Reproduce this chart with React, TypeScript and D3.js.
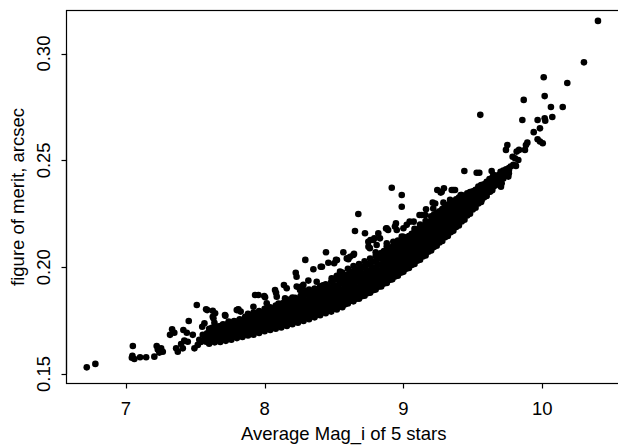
import React from "react";
import * as d3 from "d3";

// Stars at the faint-magnitude end (sparse)
const faintEnd: [number, number][] = [
  [6.718, 0.1531], [6.78, 0.1547],
  [7.05, 0.1631], [7.043, 0.1576], [7.061, 0.157], [7.047, 0.1585], [7.102, 0.1578],
  [7.146, 0.1578], [7.205, 0.1581], [7.222, 0.1631], [7.254, 0.162], [7.266, 0.1604],
  [7.241, 0.16], [7.23, 0.1615], [7.333, 0.1709], [7.349, 0.1693], [7.318, 0.1683],
  [7.362, 0.162], [7.374, 0.1604], [7.41, 0.162], [7.398, 0.164], [7.414, 0.1706],
  [7.439, 0.1693], [7.421, 0.1656], [7.446, 0.1651], [7.482, 0.1683], [7.511, 0.1823],
  [7.494, 0.162], [7.518, 0.1636], [7.55, 0.1721], [7.566, 0.1737], [7.578, 0.1803],
  [7.626, 0.1796], [7.626, 0.1768], [7.638, 0.174], [7.578, 0.1651], [7.554, 0.1683],
  [7.453, 0.1748], [7.586, 0.1799], [7.643, 0.1784], [7.529, 0.166], [7.54, 0.165],
  [7.57, 0.1665], [7.585, 0.169], [7.592, 0.166],
];

// Scatter above the main locus
const upperScatter: [number, number][] = [
  [7.717, 0.1772], [7.741, 0.1745], [7.806, 0.18], [7.811, 0.1803], [7.631, 0.1761],
  [7.799, 0.1799], [7.827, 0.1792], [7.714, 0.1776], [7.931, 0.187], [7.955, 0.187],
  [8.003, 0.1859], [7.997, 0.1865], [8.075, 0.1893], [8.082, 0.188], [8.139, 0.1916],
  [8.224, 0.1974], [8.231, 0.1909], [8.266, 0.1909], [8.28, 0.1893], [8.279, 0.1917],
  [8.315, 0.1937], [8.293, 0.2034], [8.351, 0.199], [8.404, 0.2002], [8.413, 0.2002],
  [8.442, 0.207], [8.459, 0.2021], [8.514, 0.2034], [8.521, 0.2033], [8.501, 0.2018],
  [8.567, 0.207], [8.592, 0.2041], [8.615, 0.2049], [8.603, 0.2037], [8.644, 0.2062],
  [8.639, 0.2057], [8.675, 0.2249], [8.651, 0.2169], [8.723, 0.2159], [8.747, 0.2119],
  [8.758, 0.2089], [8.807, 0.2104], [8.783, 0.2127], [8.831, 0.2135], [8.762, 0.2127],
  [8.79, 0.2135], [8.748, 0.2096], [8.819, 0.2158], [8.88, 0.2112], [8.927, 0.2119],
  [8.88, 0.2182], [8.875, 0.2181], [8.89, 0.2174], [8.939, 0.219], [8.952, 0.2174],
  [8.946, 0.2205], [8.988, 0.2143], [9.048, 0.2146], [9.0, 0.2182], [9.024, 0.2198],
  [9.045, 0.2213], [9.074, 0.2213], [9.12, 0.219], [9.116, 0.2244], [9.159, 0.2244],
  [9.132, 0.2244], [9.163, 0.2271], [9.215, 0.2275], [9.211, 0.2302], [9.229, 0.2298],
  [9.288, 0.2302], [9.336, 0.2315], [9.269, 0.2349], [9.244, 0.2361], [9.292, 0.2369],
  [9.276, 0.2353], [9.348, 0.2361], [9.36, 0.2361], [9.372, 0.2361], [9.413, 0.2338],
  [9.42, 0.2338], [9.312, 0.2291], [9.372, 0.2283], [9.408, 0.2291], [9.444, 0.2283],
  [9.467, 0.2299], [9.491, 0.2315], [9.503, 0.233], [9.528, 0.2307], [9.552, 0.233],
  [9.564, 0.2315], [8.916, 0.2372], [8.988, 0.2338], [8.988, 0.2283], [8.23, 0.1955],
  [8.087, 0.1862], [8.147, 0.1854], [8.015, 0.1831], [7.919, 0.1815], [8.159, 0.1901],
  [8.255, 0.1893], [8.375, 0.1932], [8.483, 0.1948], [8.543, 0.1979],
];

// Bright-magnitude tail
const brightTail: [number, number][] = [
  [9.439, 0.245], [9.528, 0.2442], [9.547, 0.2442], [9.6, 0.24], [9.624, 0.2408],
  [9.66, 0.2416], [9.636, 0.245], [9.648, 0.2432], [9.72, 0.2447], [9.732, 0.2432],
  [9.756, 0.2424], [9.708, 0.2393], [9.703, 0.2377], [9.6, 0.2369], [9.624, 0.2353],
  [9.588, 0.2338], [9.576, 0.233], [9.648, 0.2377], [9.636, 0.2385], [9.528, 0.2361],
  [9.773, 0.2471], [9.792, 0.2479], [9.811, 0.2474], [9.787, 0.2517], [9.804, 0.251],
  [9.828, 0.2502], [9.739, 0.2549], [9.749, 0.2572], [9.816, 0.2541], [9.833, 0.2549],
  [9.876, 0.2549], [9.883, 0.2572], [9.893, 0.2583], [9.939, 0.2632], [9.967, 0.2599],
  [9.984, 0.2588], [10.004, 0.258], [9.984, 0.265], [9.857, 0.2689], [9.967, 0.2689],
  [10.018, 0.2697], [10.022, 0.2686], [10.073, 0.2703], [10.063, 0.275], [10.148, 0.275],
  [9.867, 0.2783], [10.018, 0.2801], [10.181, 0.2862], [10.011, 0.2889], [10.301, 0.2959],
  [10.402, 0.3153], [9.554, 0.2713],
];

// Dense main locus, read column by column: [mag, figure-of-merit values]
const coreColumns: [number, number[]][] = [
  [7.6, [0.1642, 0.1665, 0.169, 0.1712]],
  [7.64, [0.1648, 0.1672, 0.1697, 0.1718]],
  [7.68, [0.165, 0.1675, 0.1702, 0.1724]],
  [7.72, [0.1655, 0.168, 0.1706, 0.173]],
  [7.76, [0.166, 0.1686, 0.1712, 0.1738]],
  [7.8, [0.1668, 0.1693, 0.1718, 0.1745]],
  [7.84, [0.1673, 0.1698, 0.1722, 0.1752]],
  [7.88, [0.168, 0.1705, 0.173, 0.176, 0.1782]],
  [7.92, [0.1684, 0.171, 0.1735, 0.1764, 0.1788]],
  [7.96, [0.1692, 0.1716, 0.1742, 0.177, 0.1795]],
  [8.0, [0.17, 0.1724, 0.175, 0.1776, 0.1805]],
  [8.04, [0.1706, 0.173, 0.1756, 0.1782, 0.1812]],
  [8.08, [0.1712, 0.1737, 0.1762, 0.179, 0.182]],
  [8.12, [0.1718, 0.1743, 0.177, 0.1798, 0.1828]],
  [8.16, [0.1725, 0.175, 0.1778, 0.1806, 0.1835]],
  [8.2, [0.1733, 0.1758, 0.1785, 0.1812, 0.1842, 0.1858]],
  [8.24, [0.174, 0.1765, 0.1792, 0.182, 0.185]],
  [8.28, [0.1748, 0.1773, 0.18, 0.1828, 0.1858, 0.188]],
  [8.32, [0.1756, 0.1782, 0.1808, 0.1836, 0.1866, 0.1895]],
  [8.36, [0.1765, 0.179, 0.1817, 0.1845, 0.1873, 0.19]],
  [8.4, [0.1775, 0.18, 0.1826, 0.1854, 0.1882, 0.191]],
  [8.44, [0.1784, 0.1808, 0.1835, 0.1862, 0.189, 0.192]],
  [8.48, [0.1792, 0.1817, 0.1844, 0.1872, 0.19, 0.1932]],
  [8.52, [0.1802, 0.1828, 0.1855, 0.1882, 0.191, 0.1942, 0.196]],
  [8.56, [0.1812, 0.1838, 0.1865, 0.1893, 0.1922, 0.1952, 0.1975]],
  [8.6, [0.183, 0.1856, 0.1882, 0.191, 0.1938, 0.1966, 0.1992]],
  [8.64, [0.184, 0.1866, 0.1893, 0.192, 0.1948, 0.1976, 0.2005]],
  [8.68, [0.1852, 0.1878, 0.1904, 0.1931, 0.1958, 0.1986, 0.2015]],
  [8.72, [0.1866, 0.1891, 0.1917, 0.1944, 0.1971, 0.1999, 0.2028]],
  [8.76, [0.188, 0.1905, 0.1931, 0.1958, 0.1985, 0.2012, 0.204]],
  [8.8, [0.1895, 0.192, 0.1946, 0.1972, 0.1999, 0.2026, 0.2052, 0.207]],
  [8.84, [0.191, 0.1935, 0.1961, 0.1987, 0.2013, 0.204, 0.2066]],
  [8.88, [0.1926, 0.1951, 0.1977, 0.2003, 0.2029, 0.2055, 0.208, 0.2098]],
  [8.92, [0.1943, 0.1968, 0.1993, 0.2019, 0.2045, 0.207, 0.2095]],
  [8.96, [0.196, 0.1985, 0.201, 0.2036, 0.2061, 0.2087, 0.211, 0.2125]],
  [9.0, [0.1978, 0.2003, 0.2028, 0.2053, 0.2078, 0.2104, 0.2128, 0.2142]],
  [9.04, [0.1996, 0.2021, 0.2046, 0.2071, 0.2096, 0.2121, 0.2146]],
  [9.08, [0.2015, 0.204, 0.2065, 0.209, 0.2115, 0.214, 0.2164, 0.218]],
  [9.12, [0.2035, 0.206, 0.2085, 0.211, 0.2134, 0.2158, 0.2182, 0.22]],
  [9.16, [0.2055, 0.208, 0.2104, 0.2128, 0.2152, 0.2176, 0.22, 0.2216]],
  [9.2, [0.2078, 0.2102, 0.2126, 0.215, 0.2173, 0.2196, 0.2218, 0.2238]],
  [9.24, [0.21, 0.2124, 0.2147, 0.217, 0.2193, 0.2215, 0.2236, 0.2255]],
  [9.28, [0.2123, 0.2146, 0.2168, 0.219, 0.2212, 0.2234, 0.2254, 0.2272]],
  [9.32, [0.2146, 0.2168, 0.219, 0.2211, 0.2232, 0.2252, 0.2272, 0.229]],
  [9.36, [0.217, 0.2191, 0.2212, 0.2233, 0.2253, 0.2272, 0.2292, 0.2308]],
  [9.4, [0.2195, 0.2215, 0.2235, 0.2255, 0.2274, 0.2293, 0.2311, 0.2326]],
  [9.44, [0.2222, 0.2241, 0.226, 0.2278, 0.2296, 0.2314, 0.2332]],
  [9.48, [0.225, 0.2268, 0.2286, 0.2304, 0.2321, 0.2338, 0.2352]],
  [9.52, [0.2278, 0.2296, 0.2313, 0.233, 0.2346, 0.2362]],
  [9.56, [0.2305, 0.2322, 0.2339, 0.2355, 0.237, 0.2384]],
  [9.6, [0.2333, 0.2349, 0.2365, 0.238, 0.2395]],
  [9.64, [0.236, 0.2376, 0.2391, 0.2406, 0.2418]],
  [9.68, [0.2388, 0.2403, 0.2417, 0.243]],
  [9.72, [0.2415, 0.2428, 0.2442, 0.2452]],
  [9.76, [0.244, 0.2452, 0.2464]],
];

// Further stars of the dense locus, read between the columns above
const coreColumnsBetween: [number, number[]][] = [
  [7.62, [0.1654, 0.1678, 0.1702, 0.1716]],
  [7.66, [0.166, 0.1684, 0.1708, 0.1722]],
  [7.7, [0.1662, 0.1688, 0.1714, 0.1732]],
  [7.74, [0.1668, 0.1693, 0.172, 0.174]],
  [7.78, [0.1674, 0.17, 0.1726, 0.1748]],
  [7.82, [0.168, 0.1706, 0.1732, 0.1756]],
  [7.86, [0.1686, 0.1712, 0.174, 0.1768]],
  [7.9, [0.1692, 0.1718, 0.1746, 0.1774]],
  [7.94, [0.17, 0.1724, 0.1752, 0.178]],
  [7.98, [0.1706, 0.1732, 0.176, 0.1788]],
  [8.02, [0.1712, 0.1738, 0.1764, 0.1794]],
  [8.06, [0.1718, 0.1744, 0.177, 0.18]],
  [8.1, [0.1724, 0.175, 0.1776, 0.1806, 0.183]],
  [8.14, [0.173, 0.1756, 0.1784, 0.1812, 0.1836]],
  [8.18, [0.1738, 0.1764, 0.1792, 0.182, 0.1848]],
  [8.22, [0.1746, 0.1772, 0.18, 0.1828, 0.1856]],
  [8.26, [0.1754, 0.178, 0.1806, 0.1836, 0.1866]],
  [8.3, [0.1762, 0.1788, 0.1815, 0.1844, 0.1874]],
  [8.34, [0.177, 0.1796, 0.1824, 0.1852, 0.1882]],
  [8.38, [0.178, 0.1806, 0.1832, 0.186, 0.1888]],
  [8.42, [0.179, 0.1814, 0.184, 0.1868, 0.1896, 0.1915]],
  [8.46, [0.1798, 0.1822, 0.185, 0.1878, 0.1908]],
  [8.5, [0.1807, 0.1832, 0.186, 0.1888, 0.1916, 0.1946]],
  [8.54, [0.1818, 0.1844, 0.187, 0.1898, 0.1928, 0.1958]],
  [8.58, [0.1826, 0.1852, 0.1878, 0.1906, 0.1934, 0.1962]],
  [8.62, [0.1843, 0.1869, 0.1896, 0.1924, 0.1952, 0.198]],
  [8.66, [0.1852, 0.188, 0.1906, 0.1934, 0.1962, 0.199]],
  [8.7, [0.1864, 0.189, 0.1917, 0.1944, 0.1972, 0.2002]],
  [8.74, [0.1878, 0.1904, 0.193, 0.1958, 0.1985, 0.2015]],
  [8.78, [0.1892, 0.1918, 0.1944, 0.1971, 0.1998, 0.2026]],
  [8.82, [0.1908, 0.1933, 0.1959, 0.1985, 0.2012, 0.204, 0.206]],
  [8.86, [0.1923, 0.1948, 0.1974, 0.2, 0.2026, 0.2053, 0.2076]],
  [8.9, [0.194, 0.1964, 0.199, 0.2016, 0.2042, 0.2068, 0.209]],
  [8.94, [0.1956, 0.1981, 0.2006, 0.2032, 0.2058, 0.2083, 0.2106]],
  [8.98, [0.1974, 0.1998, 0.2022, 0.2048, 0.2074, 0.21, 0.212]],
  [9.02, [0.1992, 0.2016, 0.204, 0.2065, 0.209, 0.2116, 0.2138]],
  [9.06, [0.201, 0.2035, 0.2058, 0.2083, 0.2108, 0.2133, 0.2156]],
  [9.1, [0.203, 0.2054, 0.2078, 0.2102, 0.2127, 0.2152, 0.2174]],
  [9.14, [0.205, 0.2074, 0.2098, 0.2122, 0.2146, 0.217, 0.2192]],
  [9.18, [0.2072, 0.2096, 0.2118, 0.2142, 0.2165, 0.2188, 0.221]],
  [9.22, [0.2094, 0.2117, 0.214, 0.2162, 0.2184, 0.2206, 0.2228, 0.2246]],
  [9.26, [0.2116, 0.2139, 0.2161, 0.2183, 0.2205, 0.2226, 0.2246, 0.2262]],
  [9.3, [0.214, 0.2162, 0.2184, 0.2205, 0.2226, 0.2246, 0.2266, 0.2282]],
  [9.34, [0.2163, 0.2185, 0.2206, 0.2227, 0.2248, 0.2268, 0.2286, 0.23]],
  [9.38, [0.2188, 0.2208, 0.2228, 0.2249, 0.2268, 0.2288, 0.2306, 0.2318]],
  [9.42, [0.2214, 0.2234, 0.2253, 0.2272, 0.229, 0.2308, 0.2325]],
  [9.46, [0.2242, 0.226, 0.2278, 0.2296, 0.2314, 0.2331, 0.2346]],
  [9.5, [0.227, 0.2288, 0.2305, 0.2322, 0.2338, 0.2355]],
  [9.54, [0.2298, 0.2315, 0.2332, 0.2348, 0.2364, 0.2378]],
  [9.58, [0.2326, 0.2342, 0.2358, 0.2373, 0.2388]],
  [9.62, [0.2354, 0.2369, 0.2384, 0.2399, 0.2412]],
  [9.66, [0.2382, 0.2396, 0.241, 0.2424]],
  [9.7, [0.2408, 0.2422, 0.2436, 0.2446]],
  [9.74, [0.2434, 0.2446, 0.2458]],
];

const xTicks = [7, 8, 9, 10];
const yTicks = [0.15, 0.2, 0.25, 0.3];
const xTitle = "Average Mag_i of 5 stars";
const yTitle = "figure of merit, arcsec";

export default function App() {
  const W = 618;
  const H = 445;
  const plotLeft = 66.5;
  const plotRight = 621;
  const plotTop = 10.5;
  const plotBottom = 383.5;

  const x = d3.scaleLinear().domain([6.572, 10.568]).range([plotLeft, plotRight]);
  const y = d3.scaleLinear().domain([0.1453, 0.3204]).range([384, 10]);

  const core: [number, number][] = [...coreColumns, ...coreColumnsBetween].flatMap(([m, ys]) =>
    ys.map((v) => [m, v] as [number, number])
  );
  const points = [...core, ...faintEnd, ...upperScatter, ...brightTail];

  const font = "'Liberation Sans', Arial, Helvetica, sans-serif";
  const fs = 18.5;
  const fmt = d3.format(".2f");
  const tickLen = 5;

  return (
    <svg
      width={W}
      height={H}
      style={{ position: "absolute", left: 0, top: 0, display: "block", background: "#fff" }}
      fontFamily={font}
    >
      <rect x={0} y={0} width={W} height={H} fill="#fff" />
      {points.map(([m, f], i) => (
        <circle key={i} cx={x(m)} cy={y(f)} r={3.3} fill="#000" />
      ))}
      <rect
        x={plotLeft}
        y={plotTop}
        width={plotRight - plotLeft}
        height={plotBottom - plotTop}
        fill="none"
        stroke="#000"
        strokeWidth={1.2}
      />
      <line
        x1={x(xTicks[0])}
        x2={x(xTicks[xTicks.length - 1])}
        y1={plotBottom}
        y2={plotBottom}
        stroke="#000"
        strokeWidth={1.2}
      />
      {xTicks.map((t) => (
        <g key={t}>
          <line
            x1={Math.round(x(t)) + 0.5}
            x2={Math.round(x(t)) + 0.5}
            y1={plotBottom}
            y2={plotBottom + tickLen}
            stroke="#000"
            strokeWidth={1.2}
          />
          <text x={x(t)} y={415} textAnchor="middle" fontSize={fs} fill="#000">
            {t}
          </text>
        </g>
      ))}
      <line
        x1={plotLeft}
        x2={plotLeft}
        y1={y(yTicks[0])}
        y2={y(yTicks[yTicks.length - 1])}
        stroke="#000"
        strokeWidth={1.2}
      />
      {yTicks.map((t) => (
        <g key={t}>
          <line
            x1={plotLeft - tickLen}
            x2={plotLeft}
            y1={Math.round(y(t)) + 0.5}
            y2={Math.round(y(t)) + 0.5}
            stroke="#000"
            strokeWidth={1.2}
          />
          <text
            transform={`translate(50,${y(t)}) rotate(-90)`}
            textAnchor="middle"
            fontSize={fs}
            fill="#000"
          >
            {fmt(t)}
          </text>
        </g>
      ))}
      <text x={(plotLeft + plotRight) / 2} y={440} textAnchor="middle" fontSize={fs} fill="#000">
        {xTitle}
      </text>
      <text
        transform={`translate(24,${(plotTop + plotBottom) / 2}) rotate(-90)`}
        textAnchor="middle"
        fontSize={fs}
        fill="#000"
      >
        {yTitle}
      </text>
    </svg>
  );
}
